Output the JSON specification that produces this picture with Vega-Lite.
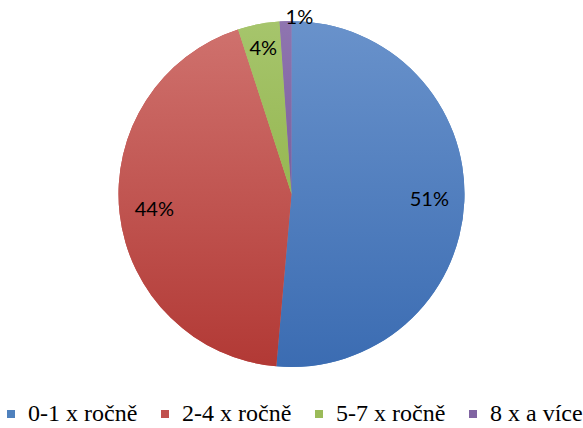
{
  "$schema": "https://vega.github.io/schema/vega-lite/v6.json",
  "width": 583,
  "height": 388,
  "autosize": "none",
  "padding": {"left": 0, "top": 0, "right": 0, "bottom": 40},
  "background": "white",
  "config": {
    "legend": {"labelFont": "Liberation Serif, Times New Roman, serif", "labelFontSize": 24, "labelColor": "#000000"}
  },
  "data": {"values": [
    {"cat": "0-1 x ročně", "p": 0.514, "i": 1},
    {"cat": "2-4 x ročně", "p": 0.436, "i": 2},
    {"cat": "5-7 x ročně", "p": 0.039, "i": 3},
    {"cat": "8 x a více", "p": 0.011, "i": 4}
  ]},
  "encoding": {
    "theta": {"field": "p", "type": "quantitative", "stack": true},
    "order": {"field": "i", "type": "quantitative"}
  },
  "layer": [
    {
      "mark": {"type": "arc", "radius": 173},
      "encoding": {
        "color": {
          "field": "cat", "type": "nominal",
          "scale": {"domain": ["0-1 x ročně", "2-4 x ročně", "5-7 x ročně", "8 x a více"],
                    "range": ["#4F81BD", "#C0504D", "#9BBB59", "#8064A2"]},
          "legend": {"title": null, "orient": "none", "legendX": -1, "legendY": 402, "direction": "horizontal",
                     "symbolType": "square", "symbolSize": 64, "symbolStrokeWidth": 0,
                     "labelLimit": 0, "labelOffset": 5, "columnPadding": 15, "padding": 0}
        }
      }
    },
    {
      "mark": {"type": "arc", "radius": 173},
      "encoding": {
        "fill": {
          "condition": [
            {"test": "datum.i === 1", "value": {"gradient": "linear", "x1": 0, "y1": 0, "x2": 0, "y2": 1,
              "stops": [{"offset": 0, "color": "#6992CB"}, {"offset": 1, "color": "#3B6CB2"}]}},
            {"test": "datum.i === 2", "value": {"gradient": "linear", "x1": 0, "y1": 0, "x2": 0, "y2": 1,
              "stops": [{"offset": 0, "color": "#CF716D"}, {"offset": 1, "color": "#B23935"}]}},
            {"test": "datum.i === 3", "value": {"gradient": "linear", "x1": 0, "y1": 0, "x2": 0, "y2": 1,
              "stops": [{"offset": 0, "color": "#A6C56C"}, {"offset": 1, "color": "#96B752"}]}}
          ],
          "value": {"gradient": "linear", "x1": 0, "y1": 0, "x2": 0, "y2": 1,
            "stops": [{"offset": 0, "color": "#8F75B0"}, {"offset": 1, "color": "#7B5E9D"}]}
        }
      }
    },
    {
      "mark": {"type": "text", "radius": 138, "font": "Lato", "fontSize": 20, "color": "#000000", "baseline": "middle", "align": "center"},
      "encoding": {
        "text": {"condition": {"test": "datum.i <= 2", "field": "p", "type": "quantitative", "format": ".0%"}, "value": ""}
      }
    },
    {
      "mark": {"type": "text", "radius": 148, "font": "Lato", "fontSize": 20, "color": "#000000", "baseline": "middle", "align": "center"},
      "encoding": {
        "text": {"condition": {"test": "datum.i === 3", "field": "p", "type": "quantitative", "format": ".0%"}, "value": ""}
      }
    },
    {
      "mark": {"type": "text", "radius": 176, "dx": 14, "font": "Lato", "fontSize": 20, "color": "#000000", "baseline": "middle", "align": "center"},
      "encoding": {
        "text": {"condition": {"test": "datum.i === 4", "field": "p", "type": "quantitative", "format": ".0%"}, "value": ""}
      }
    }
  ]
}
